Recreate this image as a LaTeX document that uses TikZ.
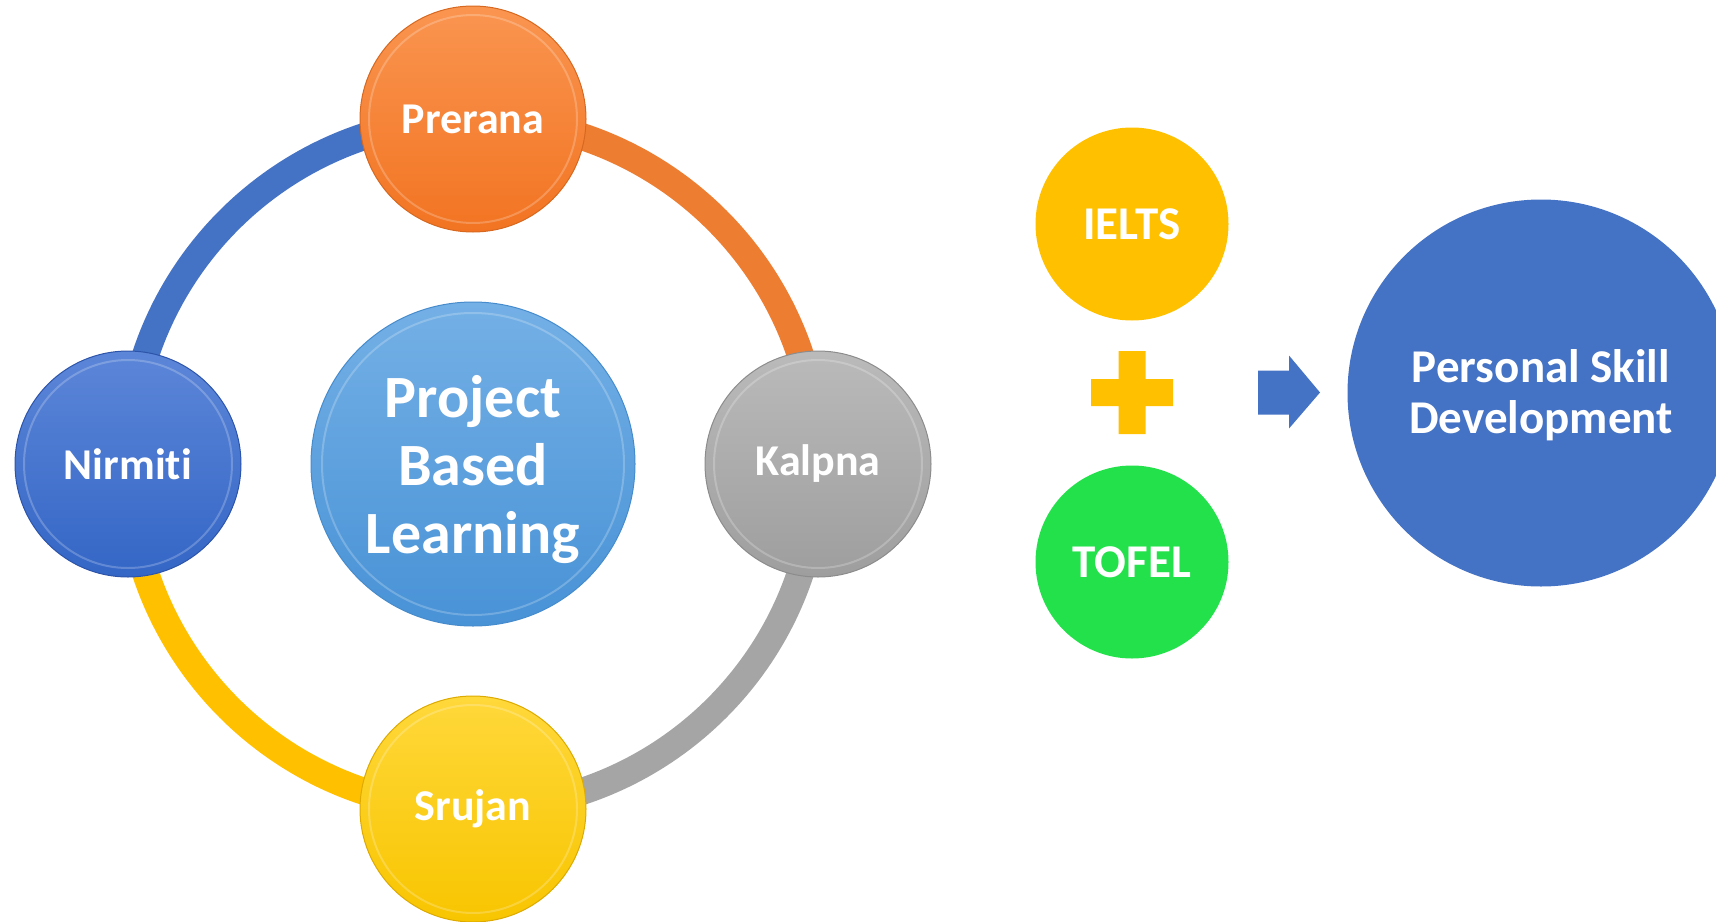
\documentclass[tikz,border=0pt]{standalone}
\usepackage{fontspec}
\setmainfont{Carlito}[Ligatures=NoCommon]
\definecolor{ringblue}{HTML}{4472C4}
\definecolor{ringorange}{HTML}{ED7D31}
\definecolor{ringgray}{HTML}{A5A5A5}
\definecolor{ringyellow}{HTML}{FFC000}
\definecolor{examgreen}{HTML}{23E14B}
\begin{document}
\begin{tikzpicture}[x=1pt,y=-1pt,
  sat/.style={circle,minimum size=226pt,inner sep=0pt,text=white,
    font=\fontsize{44}{50}\selectfont\bfseries},
  satrim/.style={draw=white,opacity=0.22,line width=2pt},
  ringseg/.style={line width=27pt},
  exam/.style={circle,minimum size=193pt,inner sep=0pt,text=white,
    font=\fontsize{47}{52}\selectfont\bfseries},
  ]
\useasboundingbox (0,0) rectangle (1716,921);
\clip (0,0) rectangle (1716,921);
% hub position
\coordinate (hub) at (473,464);
% ring segments (drawn first, satellites on top)
\coordinate (pN) at (128,464);
\coordinate (pP) at (473,119);
\coordinate (pK) at (818,464);
\coordinate (pS) at (473,809);
\draw[ringseg,ringblue] (pN) arc[start angle=180,end angle=90,radius=345pt];
\draw[ringseg,ringorange] (pP) arc[start angle=90,end angle=0,radius=345pt];
\draw[ringseg,ringgray] (pK) arc[start angle=0,end angle=-90,radius=345pt];
\draw[ringseg,ringyellow] (pS) arc[start angle=-90,end angle=-180,radius=345pt];
% satellites
\node[sat,top color={rgb,255:red,250;green,149;blue,80},bottom color={rgb,255:red,242;green,116;blue,34},draw={rgb,255:red,214;green,104;blue,32},line width=1pt] (prerana) at (pP) {Prerana};
\node[sat,top color={rgb,255:red,92;green,134;blue,216},bottom color={rgb,255:red,52;green,102;blue,198},draw={rgb,255:red,44;green,84;blue,170},line width=1pt] (nirmiti) at (pN) {Nirmiti};
\node[sat,top color={rgb,255:red,186;green,186;blue,186},bottom color={rgb,255:red,158;green,158;blue,158},draw={rgb,255:red,140;green,140;blue,140},line width=1pt] (kalpna) at (pK) {Kalpna};
\node[sat,top color={rgb,255:red,255;green,216;blue,58},bottom color={rgb,255:red,248;green,197;blue,0},draw={rgb,255:red,220;green,170;blue,0},line width=1pt] (srujan) at (pS) {Srujan};
\foreach \n in {prerana,nirmiti,kalpna,srujan}
  \draw[satrim] (\n.center) circle[radius=104pt];
% hub
\node[circle,minimum size=324pt,inner sep=0pt,text=white,align=center,
  top color={rgb,255:red,116;green,176;blue,230},bottom color={rgb,255:red,72;green,146;blue,214},
  draw={rgb,255:red,70;green,140;blue,205},line width=1pt,
  font=\fontsize{60}{68}\selectfont\bfseries] (pbl) at (hub) {};
\node[text=white,align=center,font=\fontsize{60}{68}\selectfont\bfseries] (pbltext) at (473,470) {Project\\Based\\Learning};
\draw[satrim] (pbl.center) circle[radius=151pt];
% exams
\node[exam,fill=ringyellow] (ielts) at (1132,224) {IELTS};
\node[exam,fill=examgreen] (tofel) at (1132,562) {TOFEL};
% plus sign
\fill[ringyellow] (1118.5,351) -- (1145.5,351) -- (1145.5,379) -- (1173,379) -- (1173,406) -- (1145.5,406) -- (1145.5,434) -- (1118.5,434) -- (1118.5,406) -- (1091,406) -- (1091,379) -- (1118.5,379) -- cycle;
% block arrow
\fill[ringblue] (1258,370.5) -- (1289,370.5) -- (1289,355.5) -- (1320,392.5) -- (1289,428.5) -- (1289,414.5) -- (1258,414.5) -- cycle;
% result
\node[circle,minimum size=387pt,inner sep=0pt,fill=ringblue] (psd) at (1541,393) {};
\node[text=white,align=center,font=\fontsize{47}{51}\selectfont\bfseries] (psdtext) at (1541,395) {Personal Skill\\Development};
\end{tikzpicture}
\end{document}
